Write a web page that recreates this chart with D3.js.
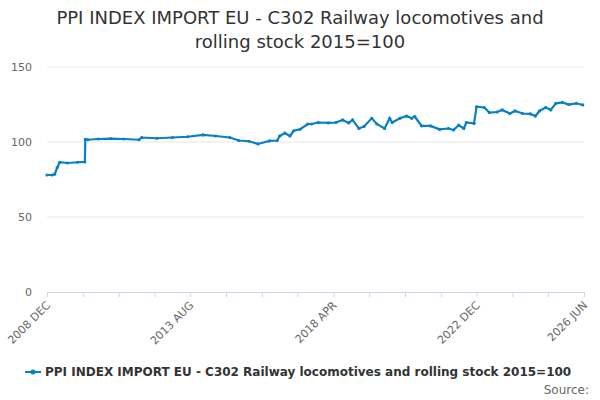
<!DOCTYPE html>
<html><head><meta charset="utf-8">
<script src="https://cdn.jsdelivr.net/npm/d3@7"></script>
<style>body{margin:0;background:#fff;font-family:"DejaVu Sans",sans-serif}</style>
</head><body><div id="chart"></div>
<script>
const TITLE = ["PPI INDEX IMPORT EU - C302 Railway locomotives and", "rolling stock 2015=100"];
const SERIES_NAME = "PPI INDEX IMPORT EU - C302 Railway locomotives and rolling stock 2015=100";
// months after 2008 DEC
const MONTHS = [0,2,3,4,5,8,12,14.8,15,16,20,25,30,36,37,43,49,55,61,66,71.5,75,79,82.5,87,90,91,93,95,96.5,99,102,103.5,106,110,113,115.6,118,119.5,122,124,127,129,132,134,135,138,140.6,142.6,143.8,146.5,150,153.5,157,159,161,163,164,167,168,171,173,176,178,181,183,186,189,191,192.6,195,197,199,201.5,204,207,209.5];
const VALUES = [78,78,78.5,83,86.5,86,86.5,86.7,101.8,101.5,102,102.3,102,101.5,103,102.5,103,103.5,104.7,104,103,101,100.5,98.7,100.7,101,104,106,104,107.5,108.5,112,112,113,112.7,113,114.7,112.7,114.7,109,110.4,115.8,112,109,115.8,113,115.8,117.3,115.8,117,110.7,110.7,108.4,109,108,111.3,109,113,112.4,123.5,123,119.6,120,121.4,119,120.7,119,118.7,117.3,120.7,123,121.4,125.8,126.4,125,125.8,124.7];
const X_TICKS = [0,56,112,168,210];
const X_TICK_LABELS = ["2008 DEC","2013 AUG","2018 APR","2022 DEC","2026 JUN"];
const Y_TICKS = [0,50,100,150];

const W = 600, H = 400;
const M = {left:47, right:16, top:67, bottom:108};
const svg = d3.select("#chart").append("svg").attr("width", W).attr("height", H);

const x = d3.scaleLinear().domain([0,210]).range([M.left, W - M.right]);
const y = d3.scaleLinear().domain([0,150]).range([H - M.bottom, M.top]);

svg.append("g").selectAll("text").data(TITLE).enter().append("text")
  .attr("x", 300).attr("y", (d,i) => 24 + i*24).attr("text-anchor","middle")
  .attr("font-size", 18).attr("fill","#333").text(d => d);

svg.append("g").selectAll("line").data(Y_TICKS.slice(1)).enter().append("line")
  .attr("x1", M.left).attr("x2", W - M.right).attr("y1", d => y(d)).attr("y2", d => y(d))
  .attr("stroke","#e6e6e6");
svg.append("g").selectAll("text").data(Y_TICKS).enter().append("text")
  .attr("x", 32).attr("y", d => y(d) + 4).attr("text-anchor","end")
  .attr("font-size", 11).attr("fill","#666").text(d => d);

const xa = svg.append("g").attr("transform", `translate(0,${y(0)})`)
  .call(d3.axisBottom(x).tickValues(d3.range(0, 211, 14)).tickSize(5).tickFormat(""));
xa.select(".domain").attr("stroke","#ccd6eb");
xa.selectAll(".tick line").attr("stroke","#ccd6eb");
svg.append("g").selectAll("text").data(X_TICKS).enter().append("text")
  .attr("transform", d => `translate(${x(d)+4},${y(0)+14}) rotate(-45)`)
  .attr("text-anchor","end").attr("font-size", 11).attr("fill","#666")
  .text((d,i) => X_TICK_LABELS[i]);

const pts = MONTHS.map((m,i) => [m, VALUES[i]]);
svg.append("path").datum(pts)
  .attr("d", d3.line().x(d => x(d[0])).y(d => y(d[1])))
  .attr("fill","none").attr("stroke","#0a7fc2").attr("stroke-width",2.2);
svg.append("g").selectAll("circle").data(pts).enter().append("circle")
  .attr("cx", d => x(d[0])).attr("cy", d => y(d[1])).attr("r", 1.6).attr("fill","#0a7fc2");

const lg = svg.append("g").attr("transform","translate(25,372)");
lg.append("line").attr("x1",0).attr("x2",16).attr("stroke","#0a7fc2").attr("stroke-width",2);
lg.append("circle").attr("cx",8).attr("r",2.5).attr("fill","#0a7fc2");
lg.append("text").attr("x",20).attr("y",4).attr("font-size",12).attr("font-weight","bold")
  .attr("fill","#333").text(SERIES_NAME);
svg.append("text").attr("x",589).attr("y",394).attr("text-anchor","end")
  .attr("font-size",12).attr("fill","#666").text("Source:");
</script></body></html>
